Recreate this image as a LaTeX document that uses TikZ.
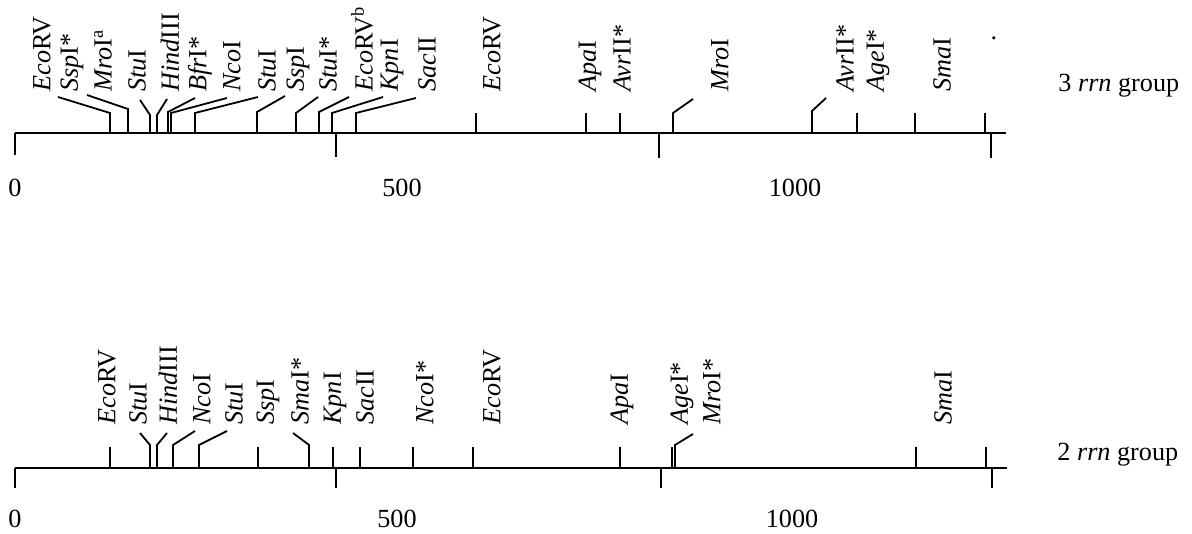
\documentclass[tikz,border=0pt]{standalone}
\usepackage{fontspec}
\setmainfont{Liberation Serif}
\usepackage{tikz}
\usetikzlibrary{positioning}
\newcommand{\mapfont}{\fontsize{13.1}{15}\selectfont}
\newcommand{\enzi}[2]{\textit{#1}#2}

\begin{document}
\begin{tikzpicture}[x=0.5pt, y=-0.5pt,
    every node/.style={font=\mapfont, inner sep=0pt},
    enz/.style={rotate=90, anchor=west},
    mapline/.style={line width=0.9pt}]
  \useasboundingbox (0,0) rectangle (1192,534);
  % 3 rrn group: axis and scale ticks
  \coordinate (ta) at (15,133);
  \coordinate (tb) at (1006,133);
  \draw[mapline] (ta) -- (tb);
  \foreach \x/\d in {15/22, 336/24, 659/25, 991/25}
    \draw[mapline] (\x,133) -- (\x,133+\d);
  % sites, straight and with leaders
  \foreach \x in {476, 586, 620, 857, 915, 985}
    \draw[mapline] (\x,133) -- (\x,113);
  \foreach \x/\t/\k/\y in {110/58/113/97, 128/87/109/95, 150/140/115/100,
      157/167/115/99, 168/195/112/98, 171/227/113/98, 195/258/113/97,
      257/285/112/96, 296/318/113/97, 319/349/112/97, 332/383/113/97,
      356/416/113/98, 673/693/113/99, 812/826/111/98}
    \draw[mapline] (\x,133) -- (\x,\k) -- (\t,\y);
  % enzyme names
  \foreach \x/\lab [count=\i] in {42/{\enzi{Eco}{RV}}, 72/{\enzi{Ssp}{I*}},
      103/{\enzi{Mro}{I\textsuperscript{a}}}, 137/{\enzi{Stu}{I}},
      170/{\enzi{Hind}{III}}, 200/{\enzi{Bfr}{I*}}, 232/{\enzi{Nco}{I}},
      267/{\enzi{Stu}{I}}, 298/{\enzi{Ssp}{I}}, 328/{\enzi{Stu}{I*}},
      362/{\enzi{Eco}{RV\textsuperscript{b}}}, 392/{\enzi{Kpn}{I}},
      427/{\enzi{Sac}{II}}, 492/{\enzi{Eco}{RV}}, 590/{\enzi{Apa}{I}},
      622/{\enzi{Avr}{II*}}, 720/{\enzi{Mro}{I}}, 845/{\enzi{Avr}{II*}},
      878/{\enzi{Age}{I*}}, 942/{\enzi{Sma}{I}}}
    \node[enz] (t\i) at (\x,92) {\lab};
  \node (tdot) at (994,38) {.};
  \node[anchor=base west] (grp3) at (1058,92) {3 \textit{rrn} group};
  \foreach \x/\n in {15/0, 402/500, 795/1000}
    \node[anchor=base] (tn\n) at (\x,197) {\n};

  % 2 rrn group: axis and scale ticks
  \coordinate (ba) at (15,468);
  \coordinate (bb) at (1007,468);
  \draw[mapline] (ba) -- (bb);
  \foreach \x in {15, 336, 661, 992}
    \draw[mapline] (\x,468) -- (\x,488);
  % sites
  \foreach \x in {110, 258, 333, 360, 413, 473, 620, 672, 916, 986}
    \draw[mapline] (\x,468) -- (\x,447);
  \foreach \x/\t/\y in {150/140/433, 157/167/433, 173/195/431, 199/227/431,
      309/293/433, 675/693/434}
    \draw[mapline] (\x,468) -- (\x,445) -- (\t,\y);
  % enzyme names
  \foreach \x/\lab [count=\i] in {107/{\enzi{Eco}{RV}}, 138/{\enzi{Stu}{I}},
      168/{\enzi{Hind}{III}}, 202/{\enzi{Nco}{I}}, 234/{\enzi{Stu}{I}},
      268/{\enzi{Ssp}{I}}, 300/{\enzi{Sma}{I*}}, 335/{\enzi{Kpn}{I}},
      365/{\enzi{Sac}{II}}, 425/{\enzi{Nco}{I*}}, 492/{\enzi{Eco}{RV}},
      622/{\enzi{Apa}{I}}, 682/{\enzi{Age}{I*}}, 712/{\enzi{Mro}{I*}},
      943/{\enzi{Sma}{I}}}
    \node[enz] (b\i) at (\x,425) {\lab};
  \node[anchor=base west] (grp2) at (1057,460) {2 \textit{rrn} group};
  \foreach \x/\n in {15/0, 397/500, 792/1000}
    \node[anchor=base] (bn\n) at (\x,527) {\n};
\end{tikzpicture}
\end{document}
